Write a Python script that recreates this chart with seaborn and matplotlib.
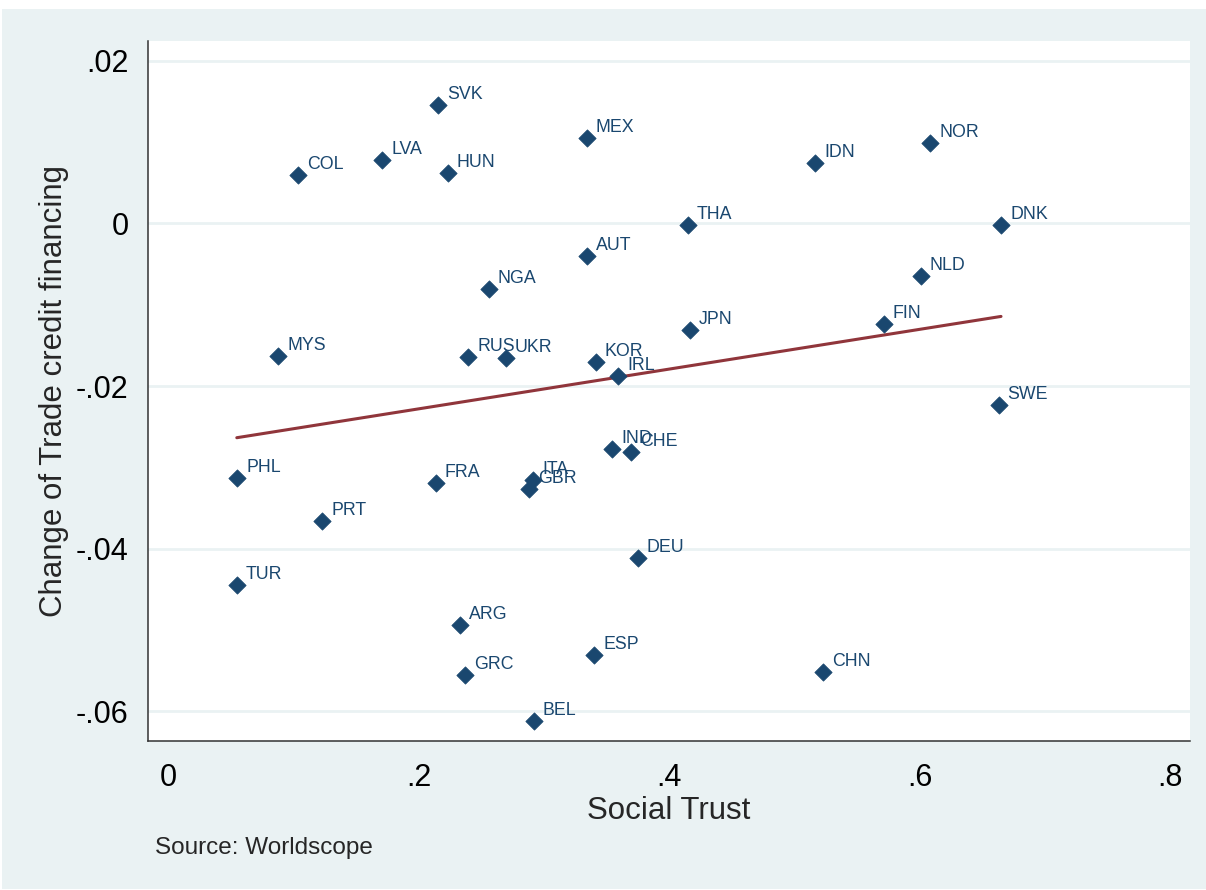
import matplotlib
matplotlib.use("Agg")
import matplotlib.pyplot as plt
import seaborn as sns
import pandas as pd
from matplotlib.patches import Rectangle

# Country codes, social trust and change of trade credit financing
countries = ["SVK", "MEX", "NOR", "IDN", "COL", "LVA", "HUN", "THA", "DNK", "AUT",
             "NGA", "NLD", "FIN", "JPN", "MYS", "RUS", "UKR", "KOR", "IRL", "SWE",
             "IND", "CHE", "PHL", "FRA", "ITA", "GBR", "PRT", "DEU", "TUR", "ARG",
             "ESP", "GRC", "CHN", "BEL"]
social_trust = [0.2158, 0.3343, 0.6084, 0.5166, 0.1036, 0.1711, 0.2233, 0.4149, 0.6651, 0.3343,
                0.2560, 0.6010, 0.5713, 0.4168, 0.0881, 0.2395, 0.2699, 0.3415, 0.3595, 0.6632,
                0.3545, 0.3697, 0.0553, 0.2137, 0.2917, 0.2885, 0.1232, 0.3750, 0.0549, 0.2331,
                0.3401, 0.2371, 0.5232, 0.2920]
trade_credit_change = [0.01459, 0.01049, 0.00987, 0.00748, 0.00597, 0.00782, 0.00625, -0.00022, -0.00022, -0.00396,
                       -0.00806, -0.00646, -0.01239, -0.01311, -0.01631, -0.01639, -0.01659, -0.01701, -0.01877, -0.02230,
                       -0.02775, -0.02812, -0.03132, -0.03198, -0.03157, -0.03264, -0.03665, -0.04117, -0.04446, -0.04942,
                       -0.05307, -0.05553, -0.05520, -0.06119]

x_ticks = [0, 0.2, 0.4, 0.6, 0.8]
x_tick_labels = ["0", ".2", ".4", ".6", ".8"]
y_ticks = [0.02, 0, -0.02, -0.04, -0.06]
y_tick_labels = [".02", "0", "-.02", "-.04", "-.06"]

df = pd.DataFrame({"country": countries, "trust": social_trust, "dtc": trade_credit_change})

navy = "#1A476F"
maroon = "#90353B"
bg = "#EAF2F3"

sns.set_style("white")
plt.rcParams["font.family"] = ["Liberation Sans", "DejaVu Sans"]

fig = plt.figure(figsize=(12.06, 8.90), dpi=100, facecolor="white")
fig.patches.append(Rectangle((2 / 1206, 1 / 890), 1, 880 / 890, transform=fig.transFigure,
                             facecolor=bg, edgecolor="none", zorder=-10))
ax = fig.add_axes([148 / 1206, 1 - 741 / 890, (1190 - 148) / 1206, (741 - 41) / 890])
ax.set_facecolor("white")

# horizontal grid at the y ticks
for yv in y_ticks:
    ax.axhline(yv, color=bg, lw=2.0, zorder=0.5)

sns.scatterplot(data=df, x="trust", y="dtc", marker="D", s=78, color=navy,
                edgecolor=navy, linewidth=0.5, ax=ax, zorder=3, legend=False)
sns.regplot(data=df, x="trust", y="dtc", scatter=False, ci=None, ax=ax,
            line_kws={"color": maroon, "lw": 2.2, "zorder": 2})

for c, xv, yv in zip(countries, social_trust, trade_credit_change):
    ax.annotate(c, (xv, yv), xytext=(6.5, 7.5), textcoords="offset points",
                fontsize=12.8, color=navy, ha="left", va="center", zorder=4)

ax.set_xlim(-0.016, 0.816)
ax.set_ylim(-0.06369, 0.02246)
ax.set_xticks(x_ticks)
ax.set_xticklabels(x_tick_labels)
ax.set_yticks(y_ticks)
ax.set_yticklabels(y_tick_labels)
ax.tick_params(axis="both", direction="out", length=8, width=1.1, color="#333333",
               labelsize=22, labelcolor="black")
ax.tick_params(axis="x", pad=8)
ax.tick_params(axis="y", pad=6)

for side in ["top", "right"]:
    ax.spines[side].set_visible(False)
for side in ["left", "bottom"]:
    ax.spines[side].set_color("#333333")
    ax.spines[side].set_linewidth(1.1)

ax.set_xlabel("Social Trust", fontsize=22.5, labelpad=2)
ax.set_ylabel("Change of Trade credit financing", fontsize=22.5, labelpad=5)

fig.text(155 / 1206, 1 - 848 / 890, "Source: Worldscope", fontsize=17.5,
         ha="left", va="center")

fig.savefig("out.png", dpi=100, facecolor="white")
